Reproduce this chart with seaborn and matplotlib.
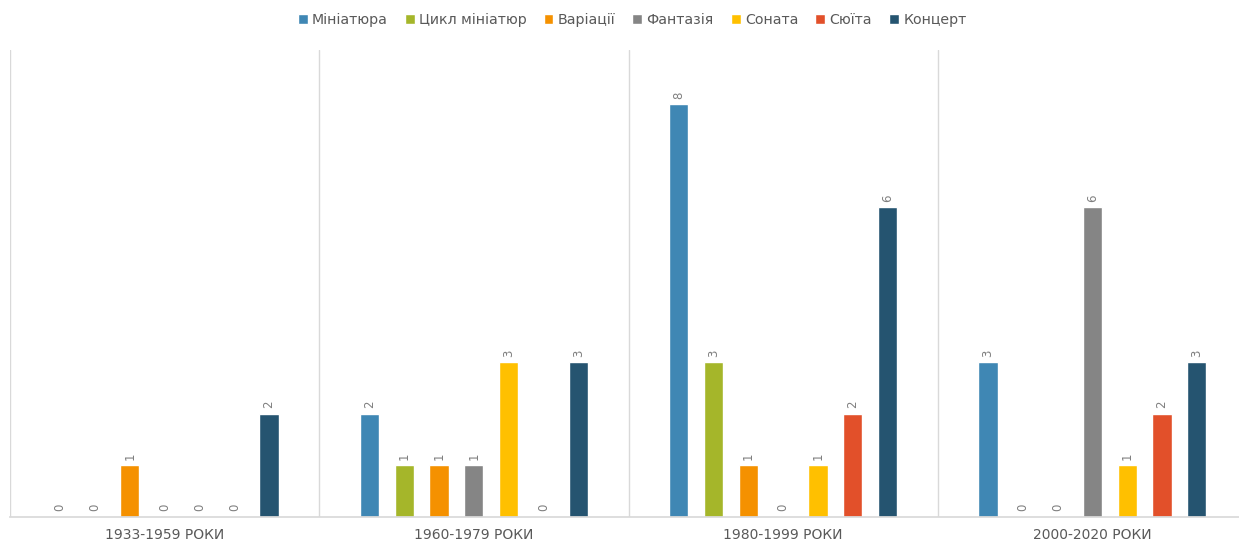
import matplotlib
matplotlib.use("Agg")
import matplotlib.pyplot as plt
import seaborn as sns
import pandas as pd

periods = ["1933-1959 РОКИ", "1960-1979 РОКИ", "1980-1999 РОКИ", "2000-2020 РОКИ"]
genres = ["Мініатюра", "Цикл мініатюр", "Варіації", "Фантазія", "Соната", "Сюїта", "Концерт"]
miniatura = [0, 2, 8, 3]
tsykl = [0, 1, 3, 0]
variatsii = [1, 1, 1, 0]
fantaziia = [0, 1, 0, 6]
sonata = [0, 3, 1, 1]
siuita = [0, 0, 2, 2]
kontsert = [2, 3, 6, 3]
colors = ["#3F87B4", "#A5B62A", "#F59100", "#858585", "#FFC000", "#E2502A", "#255470"]

series = [miniatura, tsykl, variatsii, fantaziia, sonata, siuita, kontsert]
rows = []
for g, vals in zip(genres, series):
    for p, v in zip(periods, vals):
        rows.append({"period": p, "genre": g, "value": v})
df = pd.DataFrame(rows)

sns.set_theme(style="white")
plt.rcParams['font.family'] = ['DejaVu Sans']

fig = plt.figure(figsize=(12.39, 5.44), dpi=100)
ax = fig.add_axes([10/1239, 27/544, 1237/1239, 467/544])

sns.barplot(data=df, x="period", y="value", hue="genre", order=periods,
            hue_order=genres, palette=colors, width=0.788, gap=0.45,
            saturation=1, ax=ax, legend=True)

for c in ax.containers:
    ax.bar_label(c, rotation=90, padding=4, fontsize=8.5, color="#7F7F7F")

ax.set_xlim(-0.5, 3.5)
ax.set_ylim(0, 9.05)
for x in [-0.5, 0.5, 1.5, 2.5, 3.5]:
    ax.axvline(x, color="#D9D9D9", lw=1, zorder=0)
for s in ["top", "right", "left"]:
    ax.spines[s].set_visible(False)
ax.spines["bottom"].set_color("#D9D9D9")
ax.set_yticks([])
ax.set_xlabel("")
ax.set_ylabel("")
ax.tick_params(axis="x", length=0, pad=8, labelsize=10, labelcolor="#595959")

handles, labels = ax.get_legend_handles_labels()
ax.legend_.remove()
fig.legend(handles, labels, loc="center", bbox_to_anchor=(632/1239, 1 - 20/544),
           ncol=7, frameon=False, fontsize=10.2, handlelength=0.7, handleheight=0.7,
           handletextpad=0.3, columnspacing=1.2, labelcolor="#595959")

fig.savefig("out.png", dpi=100)
